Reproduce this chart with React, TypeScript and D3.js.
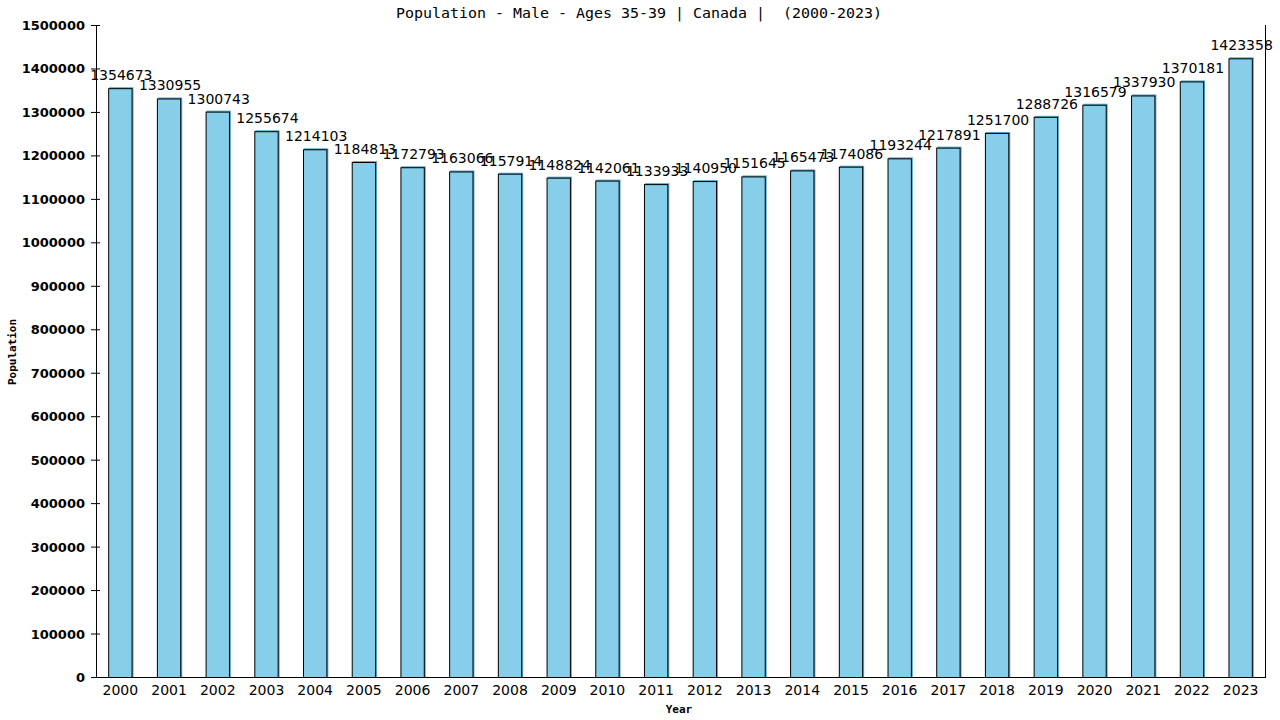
import React, { useEffect, useRef } from 'react';
import * as d3 from 'd3';

// Population - Male - Ages 35-39, Canada
const years = [
  '2000', '2001', '2002', '2003', '2004', '2005', '2006', '2007', '2008', '2009', '2010', '2011',
  '2012', '2013', '2014', '2015', '2016', '2017', '2018', '2019', '2020', '2021', '2022', '2023',
];
const population = [
  1354673, 1330955, 1300743, 1255674, 1214103, 1184813, 1172793, 1163066, 1157914, 1148824, 1142061, 1133933,
  1140950, 1151645, 1165473, 1174086, 1193244, 1217891, 1251700, 1288726, 1316579, 1337930, 1370181, 1423358,
];
const yTicks = d3.range(0, 1500001, 100000);

const W = 1280;
const H = 720;
const left = 96;
const right = 1265;
const top = 25;
const bottom = 677;

const App: React.FC = () => {
  const svgRef = useRef<SVGSVGElement>(null);

  useEffect(() => {
    if (!svgRef.current) return;
    const svg = d3.select(svgRef.current);
    svg.selectAll('*').remove();

    svg.append('rect').attr('width', W).attr('height', H).attr('fill', '#fff');

    const x = d3.scaleBand<string>()
      .domain(years)
      .range([left, right])
      .paddingInner(0.5)
      .paddingOuter(0.25);

    const y = d3.scaleLinear().domain([0, 1500000]).range([bottom, top]);

    // y ticks + labels
    const yg = svg.append('g');
    yg.selectAll('line')
      .data(yTicks)
      .enter()
      .append('line')
      .attr('x1', left - 5)
      .attr('x2', left + 4)
      .attr('y1', d => y(d) + 0.5)
      .attr('y2', d => y(d) + 0.5)
      .attr('stroke', '#000');
    yg.selectAll('text')
      .data(yTicks)
      .enter()
      .append('text')
      .attr('x', left - 11)
      .attr('y', d => y(d) + 5)
      .attr('text-anchor', 'end')
      .style('font-family', '"DejaVu Sans", sans-serif')
      .style('font-size', '13px')
      .style('font-weight', 'bold')
      .text(d => String(d));

    // bars
    const bars = svg.append('g');
    bars.selectAll('rect.shade')
      .data(population)
      .enter()
      .append('rect')
      .attr('class', 'shade')
      .attr('x', (d, i) => (x(years[i]) as number) + 1)
      .attr('y', d => y(d) - 1)
      .attr('width', x.bandwidth())
      .attr('height', d => bottom - y(d) + 1)
      .attr('fill', '#5fa8c8');
    bars.selectAll('rect.bar')
      .data(population)
      .enter()
      .append('rect')
      .attr('class', 'bar')
      .attr('x', (d, i) => (x(years[i]) as number) + 0.5)
      .attr('y', d => y(d) + 0.5)
      .attr('width', x.bandwidth() - 1)
      .attr('height', d => bottom - y(d))
      .attr('fill', '#87ceeb')
      .attr('stroke', '#000')
      .attr('stroke-width', 1);

    // axes frame
    svg.append('line')
      .attr('x1', left + 0.5).attr('x2', left + 0.5)
      .attr('y1', top).attr('y2', bottom + 1)
      .attr('stroke', '#000');
    svg.append('line')
      .attr('x1', right + 0.5).attr('x2', right + 0.5)
      .attr('y1', top).attr('y2', bottom + 1)
      .attr('stroke', '#000');
    svg.append('line')
      .attr('x1', left).attr('x2', right + 1)
      .attr('y1', bottom + 0.5).attr('y2', bottom + 0.5)
      .attr('stroke', '#000');

    // value labels
    svg.append('g')
      .selectAll('text')
      .data(population)
      .enter()
      .append('text')
      .attr('x', (d, i) => (x(years[i]) as number) + x.bandwidth() / 2 + 1)
      .attr('y', d => y(d) - 8)
      .attr('text-anchor', 'middle')
      .style('font-family', '"DejaVu Sans", sans-serif')
      .style('font-size', '14px')
      .text(d => String(d));

    // x labels
    svg.append('g')
      .selectAll('text')
      .data(years)
      .enter()
      .append('text')
      .attr('x', d => (x(d) as number) + x.bandwidth() / 2)
      .attr('y', bottom + 18)
      .attr('text-anchor', 'middle')
      .style('font-family', '"DejaVu Sans", sans-serif')
      .style('font-size', '14px')
      .text(d => d);

    // title
    svg.append('text')
      .attr('x', 639)
      .attr('y', 18)
      .attr('text-anchor', 'middle')
      .attr('textLength', 486)
      .attr('lengthAdjust', 'spacingAndGlyphs')
      .style('font-family', '"DejaVu Sans Mono", monospace')
      .style('font-size', '14px')
      .style('white-space', 'pre')
      .text('Population - Male - Ages 35-39 | Canada |  (2000-2023)');

    // axis titles
    svg.append('text')
      .attr('x', 679)
      .attr('y', 713)
      .attr('text-anchor', 'middle')
      .style('font-family', '"DejaVu Sans Mono", monospace')
      .style('font-size', '11px')
      .style('font-weight', 'bold')
      .text('Year');
    svg.append('text')
      .attr('transform', 'translate(16,352) rotate(-90)')
      .attr('text-anchor', 'middle')
      .style('font-family', '"DejaVu Sans Mono", monospace')
      .style('font-size', '11px')
      .style('font-weight', 'bold')
      .text('Population');
  }, []);

  return (
    <div style={{ position: 'absolute', left: 0, top: 0 }}>
      <svg ref={svgRef} width={W} height={H} style={{ display: 'block' }}></svg>
    </div>
  );
};

export default App;
